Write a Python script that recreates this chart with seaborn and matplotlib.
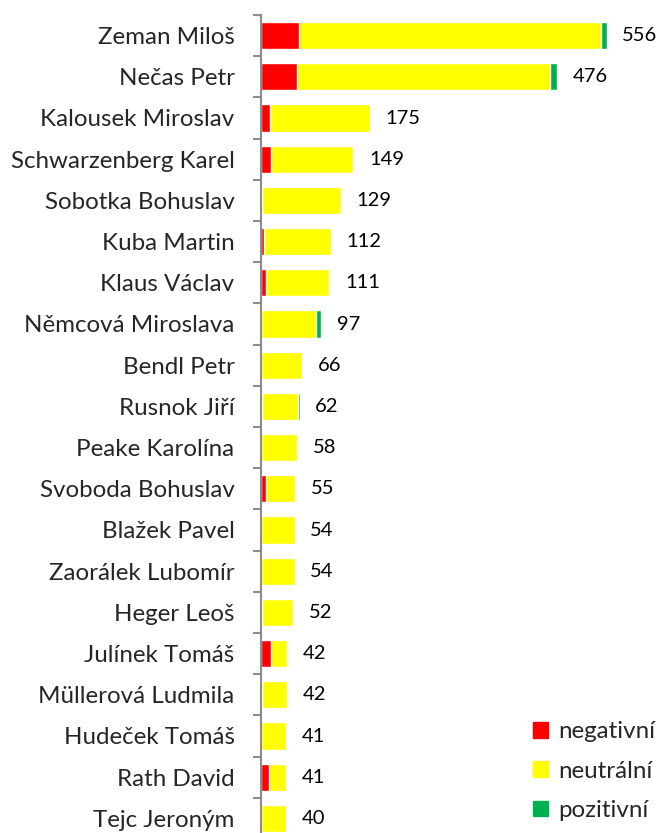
import numpy as np
import pandas as pd
import matplotlib.pyplot as plt
import seaborn as sns
from matplotlib.patches import Patch

names = ["Zeman Miloš", "Nečas Petr", "Kalousek Miroslav", "Schwarzenberg Karel",
         "Sobotka Bohuslav", "Kuba Martin", "Klaus Václav", "Němcová Miroslava",
         "Bendl Petr", "Rusnok Jiří", "Peake Karolína", "Svoboda Bohuslav",
         "Blažek Pavel", "Zaorálek Lubomír", "Heger Leoš", "Julínek Tomáš",
         "Müllerová Ludmila", "Hudeček Tomáš", "Rath David", "Tejc Jeroným"]
negativni = [61, 58, 14, 16, 2, 5, 8, 0, 0, 2, 0, 8, 0, 0, 1, 16, 1, 0, 13, 0]
neutralni = [486, 407, 161, 132, 126, 107, 102, 88, 66, 58, 58, 46, 54, 54, 51, 26, 41, 41, 28, 40]
pozitivni = [9, 11, 0, 1, 1, 0, 1, 9, 0, 2, 0, 1, 0, 0, 0, 0, 0, 0, 0, 0]

df = pd.DataFrame({"jmeno": names, "neg": negativni, "neu": neutralni, "poz": pozitivni})
df["neg_neu"] = df["neg"] + df["neu"]
df["celkem"] = df["neg_neu"] + df["poz"]

sns.set_style("white")
plt.rcParams["font.family"] = ["Lato", "DejaVu Sans"]

fig = plt.figure(figsize=(6.58, 8.33), dpi=100)
ax = fig.add_axes([261 / 658, -6 / 833, 373 / 658, 824 / 833])

# vrstvené sloupce: celkem (zelená), pod tím neg+neu (žlutá), nahoře neg (červená)
sns.barplot(data=df, y="jmeno", x="celkem", color="#00B050", width=0.66, ax=ax, orient="h", saturation=1)
sns.barplot(data=df, y="jmeno", x="neg_neu", color="#FFFF00", width=0.66, ax=ax, orient="h", saturation=1)
sns.barplot(data=df, y="jmeno", x="neg", color="#FF0000", width=0.66, ax=ax, orient="h", saturation=1)

for i, v in enumerate(df["celkem"]):
    ax.text(v + 25, i, str(v), va="center", ha="left", fontsize=14.5, color="black")

ax.set_xlim(0, 600)
ax.set_ylim(len(names) - 0.5, -0.5)
ax.set_xlabel("")
ax.set_ylabel("")
ax.set_xticks([])
ax.tick_params(axis="y", which="major", length=0, pad=19, labelsize=17.4)
ax.set_yticks(np.arange(-0.5, len(names), 1), minor=True)
ax.tick_params(axis="y", which="minor", left=True, length=6, width=1.5, color="#8c8c8c", direction="out")
for s in ["top", "right", "bottom"]:
    ax.spines[s].set_visible(False)
ax.spines["left"].set_color("#8c8c8c")
ax.spines["left"].set_linewidth(1.5)

handles = [Patch(color="#FF0000", label="negativní"),
           Patch(color="#FFFF00", label="neutrální"),
           Patch(color="#00B050", label="pozitivní")]
fig.legend(handles=handles, loc="lower right", bbox_to_anchor=(1.021, -0.006), frameon=False,
           fontsize=17.4, handlelength=0.62, handleheight=0.62, handletextpad=0.4, labelspacing=0.76,
           borderaxespad=0.3)

fig.savefig("out.png", dpi=100)
